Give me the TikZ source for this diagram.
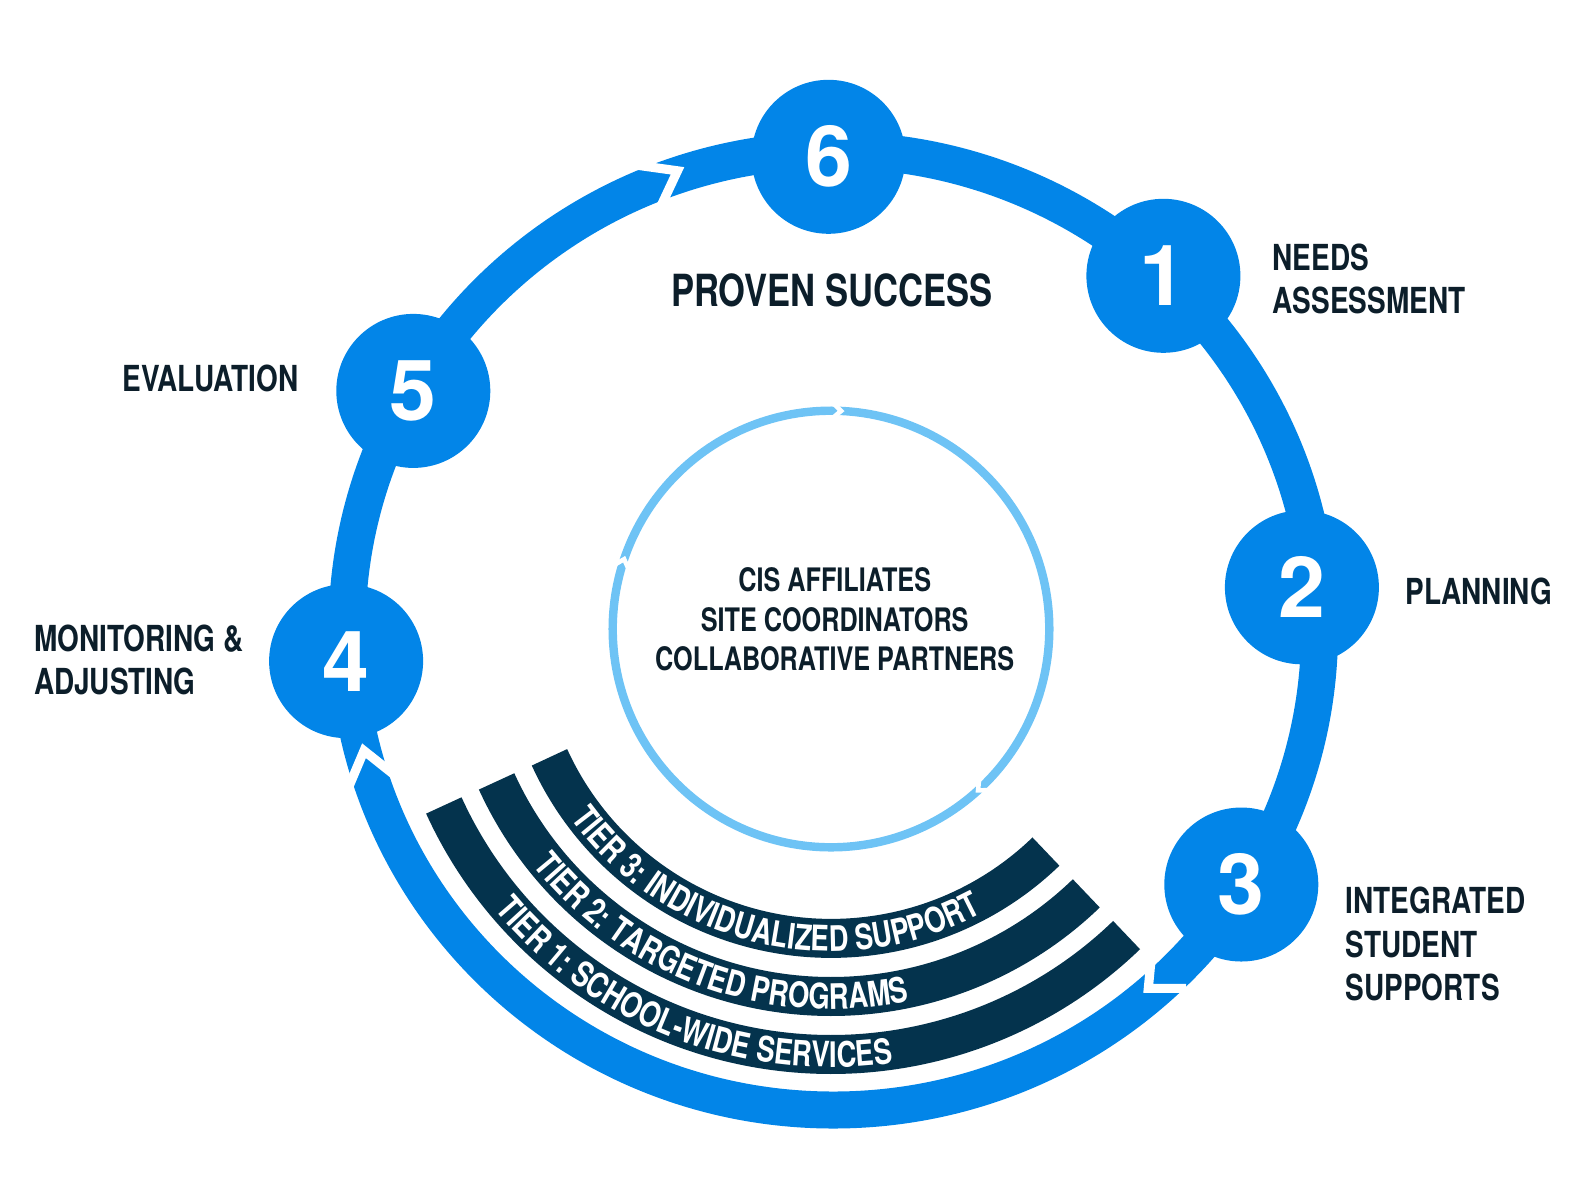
\documentclass[tikz,border=0pt]{standalone}
\usepackage{fontspec}
\setmainfont{TeX Gyre Heros}
\newfontfamily\condfont{TeX Gyre Heros}[FakeStretch=0.78]
\usetikzlibrary{decorations.text}
\definecolor{ringblue}{RGB}{2,133,232}
\definecolor{lightring}{RGB}{110,195,245}
\definecolor{tierdark}{RGB}{4,51,77}
\definecolor{labeltext}{RGB}{12,30,42}
\newcommand{\tierfont}{\condfont\bfseries\fontsize{10}{12}\selectfont}

\begin{document}
\begin{tikzpicture}[
  stepnum/.style={circle,fill=ringblue,text=white,minimum size=1.54cm,inner sep=0pt,
    font=\bfseries\fontsize{24}{24}\selectfont},
  lbl/.style={inner sep=0pt,text=labeltext,font=\condfont\bfseries\fontsize{10.2}{12.3}\selectfont},
  tier/.style={draw=tierdark,line width=0.39cm},
  notch/.style={draw=white,line width=2.6pt,line join=miter}
]
  \useasboundingbox (0,0) rectangle (15.96,-11.97);
  \coordinate (c) at (8.31,-6.29);

  % outer cycle and its arrow notches
  \draw[ringblue,line width=0.37cm] (8.333,-6.30) ellipse [x radius=4.863, y radius=4.80];
  \draw[notch] (6.30,-1.642) -- (6.775,-1.708) -- (6.61,-2.06);
  \draw[notch] (3.47,-7.91) -- (3.64,-7.507) -- (4.02,-7.81);
  \draw[notch] (11.52,-9.50) -- (11.483,-9.883) -- (11.86,-9.883);

  % inner cycle
  \draw[lightring,line width=2.4pt] (c) circle[radius=2.183];
  \foreach \a in {88,162,313}
    \draw[notch,line width=1.3pt,shift={(c)},rotate=\a] (2.12,0.045) -- (2.183,-0.025) -- (2.246,0.045);

  % tiers
  \foreach \r in {3.094,3.675,4.255}
    \draw[tier,shift={(c)}] (204.5:\r) arc[start angle=204.5,end angle=314,radius=\r];
  \path[shift={(c)},decorate,decoration={text along path,text color=white,
    text={|\tierfont|TIER 3: INDIVIDUALIZED SUPPORT}}]
    (216:3.222) arc[start angle=216,end angle=313,radius=3.222];
  \path[shift={(c)},decorate,decoration={text along path,text color=white,
    text={|\tierfont|TIER 2: TARGETED PROGRAMS}}]
    (218.4:3.803) arc[start angle=218.4,end angle=313,radius=3.803];
  \path[shift={(c)},decorate,decoration={text along path,text color=white,
    text={|\tierfont|TIER 1: SCHOOL-WIDE SERVICES}}]
    (219.8:4.383) arc[start angle=219.8,end angle=313,radius=4.383];

  % steps
  \node[stepnum] (s6) at (8.285,-1.568) {6};
  \node[stepnum] (s1) at (11.634,-2.758) {1};
  \node[stepnum] (s2) at (13.019,-5.873) {2};
  \node[stepnum] (s3) at (12.413,-8.845) {3};
  \node[stepnum] (s4) at (3.461,-6.611) {4};
  \node[stepnum] (s5) at (4.133,-3.909) {5};

  % labels
  \node[lbl,anchor=north west,align=left] (needs) at (12.72,-2.43) {NEEDS\\ASSESSMENT};
  \node[lbl,anchor=north west] (plan) at (14.047,-5.77) {PLANNING};
  \node[lbl,anchor=north west,align=left] (isup) at (13.45,-8.867) {INTEGRATED\\STUDENT\\SUPPORTS};
  \node[lbl,anchor=north west,align=left] (monit) at (0.333,-6.243) {MONITORING \&\\ADJUSTING};
  \node[lbl,anchor=north east] (eval) at (2.99,-3.64) {EVALUATION};
  \node[lbl,anchor=north,font=\condfont\bfseries\fontsize{12.6}{14}\selectfont] (proven) at (8.316,-2.728) {PROVEN SUCCESS};
  \node[lbl,anchor=north,align=center,font=\condfont\bfseries\fontsize{9.2}{11.3}\selectfont] (core) at (8.347,-5.667)
    {CIS AFFILIATES\\SITE COORDINATORS\\COLLABORATIVE PARTNERS};
\end{tikzpicture}
\end{document}
